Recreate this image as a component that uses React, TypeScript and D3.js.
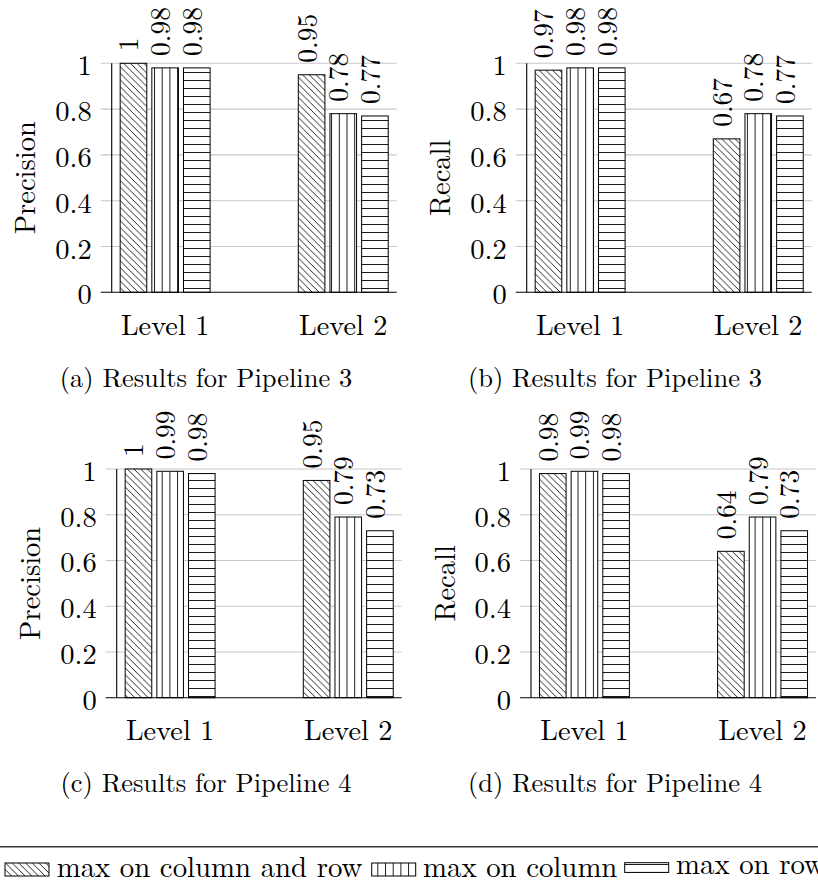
import * as d3 from "d3";

const categories = ["Level 1", "Level 2"];
const series = ["max on column and row", "max on column", "max on row"];
const yTicks = [0, 0.2, 0.4, 0.6, 0.8, 1];

// values per category, in series order
const p3Precision = [
  [1, 0.98, 0.98],
  [0.95, 0.78, 0.77],
];
const p3Recall = [
  [0.97, 0.98, 0.98],
  [0.67, 0.78, 0.77],
];
const p4Precision = [
  [1, 0.99, 0.98],
  [0.95, 0.79, 0.73],
];
const p4Recall = [
  [0.98, 0.99, 0.98],
  [0.64, 0.79, 0.73],
];

const W = 818;
const H = 891;
const FONT = "Latin Modern Roman";
const patternIds = ["pDiag", "pVert", "pHoriz"];

const panels = [
  { x0: 111.7, top: 63.3, bottom: 292.3, label: "Precision", data: p3Precision, caption: "(a) Results for Pipeline 3", capX: 206, capY: 386.7 },
  { x0: 526.7, top: 63.3, bottom: 292.3, label: "Recall", data: p3Recall, caption: "(b) Results for Pipeline 3", capX: 615, capY: 386.7 },
  { x0: 116.7, top: 469, bottom: 697.7, label: "Precision", data: p4Precision, caption: "(c) Results for Pipeline 4", capX: 206, capY: 792 },
  { x0: 531, top: 469, bottom: 697.7, label: "Recall", data: p4Recall, caption: "(d) Results for Pipeline 4", capX: 615, capY: 792 },
];

const plotW = 285;

function Panel({ p }) {
  const y = d3.scaleLinear().domain([0, 1]).range([p.bottom, p.top]);
  const x = d3.scalePoint().domain(categories).range([p.x0, p.x0 + plotW]).padding(0.3);
  const inner = d3.scaleBand().domain(series).range([-47.5, 47.5]).paddingInner(0.16).paddingOuter(0.08);
  const bw = inner.bandwidth();

  return (
    <g>
      {/* grid + ticks */}
      {yTicks.map((t) => (
        <g key={t}>
          {t > 0 && (
            <line x1={p.x0 - 11} x2={p.x0 + plotW} y1={y(t)} y2={y(t)} stroke="#c8c8c8" strokeWidth={1.1} />
          )}
          <text x={p.x0 - 20} y={y(t)} textAnchor="end" dominantBaseline="central" style={{ fontSize: 28.5, fontFamily: FONT }}>
            {String(t)}
          </text>
        </g>
      ))}

      {categories.map((c, ci) => (
        <g key={c}>
          {series.map((s, si) => {
            const v = p.data[ci][si];
            const bx = x(c) + inner(s);
            return (
              <g key={s}>
                <rect x={bx} y={y(v)} width={bw} height={y(0) - y(v)} fill="white" />
                <rect
                  x={bx}
                  y={y(v)}
                  width={bw}
                  height={y(0) - y(v)}
                  fill={`url(#${patternIds[si]})`}
                  stroke="black"
                  strokeWidth={1}
                />
                <text
                  transform={`translate(${bx + bw / 2},${y(v) - 12}) rotate(-90)`}
                  y={5}
                  style={{ fontSize: 27.5, fontFamily: FONT }}
                >
                  {String(v)}
                </text>
              </g>
            );
          })}
          <text x={x(c)} y={p.bottom + 42.5} textAnchor="middle" style={{ fontSize: 28.3, fontFamily: FONT }}>
            {c}
          </text>
        </g>
      ))}

      {/* axes */}
      <line x1={p.x0} x2={p.x0} y1={p.top} y2={p.bottom} stroke="black" strokeWidth={1.1} />
      <line x1={p.x0 - 11} x2={p.x0 + plotW} y1={p.bottom} y2={p.bottom} stroke="black" strokeWidth={1.1} />

      <text
        transform={`translate(${p.x0 - 88.5},${(p.top + p.bottom) / 2}) rotate(-90)`}
        textAnchor="middle"
        dominantBaseline="central"
        style={{ fontSize: 28.5, fontFamily: FONT }}
      >
        {p.label}
      </text>

      <text x={p.capX} y={p.capY} textAnchor="middle" style={{ fontSize: 26.5, fontFamily: FONT }}>
        {p.caption}
      </text>
    </g>
  );
}

const legendItems = [
  { sw: 5, sh: 13, sy: 863, tx: 56.7, ty: 876.7 },
  { sw: 371.7, sh: 13, sy: 863, tx: 423, ty: 876.7 },
  { sw: 624.7, sh: 9.7, sy: 862.7, tx: 676, ty: 873.5 },
];

export default function App() {
  return (
    <svg
      width={W}
      height={H}
      viewBox={`0 0 ${W} ${H}`}
      style={{ position: "absolute", left: 0, top: 0, background: "white" }}
    >
      <defs>
        <pattern id="pDiag" patternUnits="userSpaceOnUse" width={6.7} height={6.7}>
          <path d="M0,0 L6.7,6.7 M-2,4.7 L2,8.7 M4.7,-2 L8.7,2" stroke="black" strokeWidth={0.85} />
        </pattern>
        <pattern id="pVert" patternUnits="userSpaceOnUse" width={7.7} height={8}>
          <line x1={0.5} x2={0.5} y1={0} y2={8} stroke="black" strokeWidth={0.9} />
        </pattern>
        <pattern id="pHoriz" patternUnits="userSpaceOnUse" width={8} height={8}>
          <line x1={0} x2={8} y1={0.5} y2={0.5} stroke="black" strokeWidth={0.9} />
        </pattern>
      </defs>
      <rect width={W} height={H} fill="white" />

      {panels.map((p, i) => (
        <Panel key={i} p={p} />
      ))}

      {/* legend */}
      <line x1={0} x2={W} y1={846.7} y2={846.7} stroke="#333" strokeWidth={1.5} />
      {series.map((s, i) => {
        const it = legendItems[i];
        return (
          <g key={s}>
            <rect x={it.sw} y={it.sy} width={44} height={it.sh} fill="white" />
            <rect
              x={it.sw}
              y={it.sy}
              width={44}
              height={it.sh}
              fill={`url(#${patternIds[i]})`}
              stroke="black"
              strokeWidth={1}
            />
            <text x={it.tx} y={it.ty} style={{ fontSize: 28.8, fontFamily: FONT }}>
              {s}
            </text>
          </g>
        );
      })}
    </svg>
  );
}
